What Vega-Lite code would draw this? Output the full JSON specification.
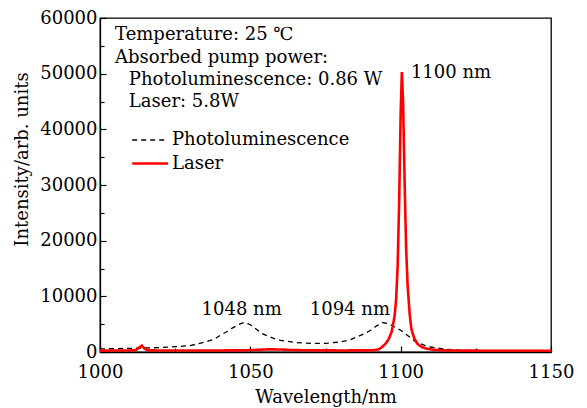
{
  "$schema": "https://vega.github.io/schema/vega-lite/v6.json",
  "width": 451,
  "height": 334,
  "autosize": "none",
  "padding": {"left": 100, "top": 18, "right": 36, "bottom": 56},
  "background": "white",
  "config": {
    "font": "DejaVu Serif",
    "view": {"stroke": "black", "strokeWidth": 1.3},
    "axis": {
      "domainColor": "black",
      "domainWidth": 1.3,
      "tickColor": "black",
      "tickWidth": 1.2,
      "labelColor": "black",
      "labelFont": "DejaVu Serif",
      "labelFontSize": 18,
      "titleFont": "DejaVu Serif",
      "titleFontSize": 18,
      "titleFontWeight": "normal",
      "titleColor": "black",
      "grid": false
    },
    "legend": {
      "orient": "none",
      "legendX": 40.7,
      "legendY": 113,
      "labelFont": "DejaVu Serif",
      "labelFontSize": 18,
      "labelColor": "black",
      "labelLimit": 400,
      "symbolType": "M-2.25,0H2.25",
      "symbolSize": 256,
      "labelOffset": 12.3,
      "rowPadding": 5
    }
  },
  "datasets": {
    "pl": [
      {"wavelength": 1000, "intensity": 550, "series": "Photoluminescence"},
      {"wavelength": 1005, "intensity": 600, "series": "Photoluminescence"},
      {"wavelength": 1010, "intensity": 650, "series": "Photoluminescence"},
      {"wavelength": 1015, "intensity": 720, "series": "Photoluminescence"},
      {"wavelength": 1020, "intensity": 800, "series": "Photoluminescence"},
      {"wavelength": 1025, "intensity": 950, "series": "Photoluminescence"},
      {"wavelength": 1030, "intensity": 1150, "series": "Photoluminescence"},
      {"wavelength": 1035, "intensity": 1800, "series": "Photoluminescence"},
      {"wavelength": 1038, "intensity": 2300, "series": "Photoluminescence"},
      {"wavelength": 1040, "intensity": 3000, "series": "Photoluminescence"},
      {"wavelength": 1042, "intensity": 3600, "series": "Photoluminescence"},
      {"wavelength": 1044, "intensity": 4300, "series": "Photoluminescence"},
      {"wavelength": 1046, "intensity": 4900, "series": "Photoluminescence"},
      {"wavelength": 1048, "intensity": 5300, "series": "Photoluminescence"},
      {"wavelength": 1050, "intensity": 4900, "series": "Photoluminescence"},
      {"wavelength": 1052, "intensity": 4100, "series": "Photoluminescence"},
      {"wavelength": 1054, "intensity": 3300, "series": "Photoluminescence"},
      {"wavelength": 1056, "intensity": 2800, "series": "Photoluminescence"},
      {"wavelength": 1058, "intensity": 2400, "series": "Photoluminescence"},
      {"wavelength": 1060, "intensity": 2100, "series": "Photoluminescence"},
      {"wavelength": 1065, "intensity": 1700, "series": "Photoluminescence"},
      {"wavelength": 1070, "intensity": 1550, "series": "Photoluminescence"},
      {"wavelength": 1075, "intensity": 1550, "series": "Photoluminescence"},
      {"wavelength": 1080, "intensity": 1800, "series": "Photoluminescence"},
      {"wavelength": 1083, "intensity": 2150, "series": "Photoluminescence"},
      {"wavelength": 1085, "intensity": 2600, "series": "Photoluminescence"},
      {"wavelength": 1088, "intensity": 3300, "series": "Photoluminescence"},
      {"wavelength": 1090, "intensity": 3900, "series": "Photoluminescence"},
      {"wavelength": 1092, "intensity": 4700, "series": "Photoluminescence"},
      {"wavelength": 1094, "intensity": 5300, "series": "Photoluminescence"},
      {"wavelength": 1096, "intensity": 5100, "series": "Photoluminescence"},
      {"wavelength": 1098, "intensity": 4500, "series": "Photoluminescence"},
      {"wavelength": 1100, "intensity": 3900, "series": "Photoluminescence"},
      {"wavelength": 1102, "intensity": 3100, "series": "Photoluminescence"},
      {"wavelength": 1104, "intensity": 2200, "series": "Photoluminescence"},
      {"wavelength": 1106, "intensity": 1600, "series": "Photoluminescence"},
      {"wavelength": 1108, "intensity": 1200, "series": "Photoluminescence"},
      {"wavelength": 1110, "intensity": 900, "series": "Photoluminescence"},
      {"wavelength": 1115, "intensity": 500, "series": "Photoluminescence"},
      {"wavelength": 1120, "intensity": 300, "series": "Photoluminescence"},
      {"wavelength": 1125, "intensity": 200, "series": "Photoluminescence"},
      {"wavelength": 1135, "intensity": 150, "series": "Photoluminescence"},
      {"wavelength": 1150, "intensity": 100, "series": "Photoluminescence"}
    ],
    "laser": [
      {"wavelength": 1000, "intensity": 250, "series": "Laser"},
      {"wavelength": 1005, "intensity": 260, "series": "Laser"},
      {"wavelength": 1010, "intensity": 280, "series": "Laser"},
      {"wavelength": 1012, "intensity": 350, "series": "Laser"},
      {"wavelength": 1013, "intensity": 800, "series": "Laser"},
      {"wavelength": 1013.9, "intensity": 1150, "series": "Laser"},
      {"wavelength": 1014.8, "intensity": 600, "series": "Laser"},
      {"wavelength": 1016, "intensity": 300, "series": "Laser"},
      {"wavelength": 1020, "intensity": 270, "series": "Laser"},
      {"wavelength": 1030, "intensity": 270, "series": "Laser"},
      {"wavelength": 1040, "intensity": 280, "series": "Laser"},
      {"wavelength": 1048, "intensity": 300, "series": "Laser"},
      {"wavelength": 1052, "intensity": 380, "series": "Laser"},
      {"wavelength": 1056, "intensity": 480, "series": "Laser"},
      {"wavelength": 1060, "intensity": 450, "series": "Laser"},
      {"wavelength": 1064, "intensity": 350, "series": "Laser"},
      {"wavelength": 1070, "intensity": 300, "series": "Laser"},
      {"wavelength": 1080, "intensity": 280, "series": "Laser"},
      {"wavelength": 1089, "intensity": 290, "series": "Laser"},
      {"wavelength": 1091, "intensity": 330, "series": "Laser"},
      {"wavelength": 1092, "intensity": 380, "series": "Laser"},
      {"wavelength": 1093, "intensity": 550, "series": "Laser"},
      {"wavelength": 1094, "intensity": 1000, "series": "Laser"},
      {"wavelength": 1095, "intensity": 1500, "series": "Laser"},
      {"wavelength": 1096, "intensity": 2300, "series": "Laser"},
      {"wavelength": 1097, "intensity": 3600, "series": "Laser"},
      {"wavelength": 1098, "intensity": 6500, "series": "Laser"},
      {"wavelength": 1098.5, "intensity": 9500, "series": "Laser"},
      {"wavelength": 1099, "intensity": 15500, "series": "Laser"},
      {"wavelength": 1099.5, "intensity": 27000, "series": "Laser"},
      {"wavelength": 1100, "intensity": 43000, "series": "Laser"},
      {"wavelength": 1100.4, "intensity": 50300, "series": "Laser"},
      {"wavelength": 1100.8, "intensity": 45000, "series": "Laser"},
      {"wavelength": 1101.3, "intensity": 31000, "series": "Laser"},
      {"wavelength": 1101.8, "intensity": 19000, "series": "Laser"},
      {"wavelength": 1102.3, "intensity": 12000, "series": "Laser"},
      {"wavelength": 1103, "intensity": 6800, "series": "Laser"},
      {"wavelength": 1103.6, "intensity": 4000, "series": "Laser"},
      {"wavelength": 1104.5, "intensity": 2500, "series": "Laser"},
      {"wavelength": 1105.5, "intensity": 1500, "series": "Laser"},
      {"wavelength": 1107, "intensity": 900, "series": "Laser"},
      {"wavelength": 1108.6, "intensity": 600, "series": "Laser"},
      {"wavelength": 1111, "intensity": 400, "series": "Laser"},
      {"wavelength": 1114, "intensity": 300, "series": "Laser"},
      {"wavelength": 1120, "intensity": 250, "series": "Laser"},
      {"wavelength": 1130, "intensity": 230, "series": "Laser"},
      {"wavelength": 1150, "intensity": 220, "series": "Laser"}
    ],
    "infoNotes": [
      {"wavelength": 1005, "intensity": 56930, "text": "Temperature: 25 ℃"},
      {"wavelength": 1005, "intensity": 52800, "text": "Absorbed pump power:"},
      {"wavelength": 1009.6, "intensity": 48850, "text": "Photoluminescence: 0.86 W"},
      {"wavelength": 1009.6, "intensity": 44900, "text": "Laser: 5.8W"},
      {"wavelength": 1103.4, "intensity": 50100, "text": "1100 nm"}
    ],
    "peakNotes": [
      {"wavelength": 1047.1, "intensity": 7540, "text": "1048 nm"},
      {"wavelength": 1083.1, "intensity": 7540, "text": "1094 nm"}
    ]
  },
  "encoding": {
    "x": {
      "field": "wavelength",
      "type": "quantitative",
      "scale": {"domain": [1000, 1150], "nice": false, "zero": false},
      "axis": {
        "title": "Wavelength/nm",
        "values": [1000, 1025, 1050, 1075, 1100, 1125, 1150],
        "labelExpr": "datum.value % 50 === 0 ? datum.label : ''",
        "format": "d",
        "tickSize": {"condition": {"test": "datum.value % 50 === 0", "value": -6}, "value": -4},
        "labelPadding": 17,
        "labelFlush": false,
        "titleY": 45,
        "titleBaseline": "middle"
      }
    },
    "y": {
      "field": "intensity",
      "type": "quantitative",
      "scale": {"domain": [0, 60000], "nice": false},
      "axis": {
        "title": "Intensity/arb. units",
        "values": [0, 5000, 10000, 15000, 20000, 25000, 30000, 35000, 40000, 45000, 50000, 55000, 60000],
        "labelExpr": "datum.value % 10000 === 0 ? datum.label : ''",
        "format": "d",
        "tickSize": {"condition": {"test": "datum.value % 10000 === 0", "value": -6}, "value": -4},
        "labelPadding": 9,
        "titleX": -78,
        "titleY": 141,
        "titleAlign": "center",
        "titleBaseline": "middle"
      }
    }
  },
  "layer": [
    {
      "data": {"name": "pl"},
      "mark": {"type": "line"},
      "encoding": {
        "color": {"field": "series", "type": "nominal", "scale": {"domain": ["Photoluminescence", "Laser"], "range": ["black", "#ff0000"]}, "title": null},
        "strokeDash": {"field": "series", "type": "nominal", "scale": {"domain": ["Photoluminescence", "Laser"], "range": [[5, 4], [1, 0]]}, "title": null},
        "strokeWidth": {"field": "series", "type": "nominal", "scale": {"domain": ["Photoluminescence", "Laser"], "range": [1.3, 2.6]}, "title": null}
      }
    },
    {
      "data": {"name": "laser"},
      "mark": {"type": "line"},
      "encoding": {
        "color": {"field": "series", "type": "nominal", "title": null},
        "strokeDash": {"field": "series", "type": "nominal", "title": null},
        "strokeWidth": {"field": "series", "type": "nominal", "title": null}
      }
    },
    {
      "data": {"name": "infoNotes"},
      "mark": {"type": "text", "align": "left", "baseline": "middle", "fontSize": 18, "color": "black"},
      "encoding": {"text": {"field": "text"}}
    },
    {
      "data": {"name": "peakNotes"},
      "mark": {"type": "text", "align": "center", "baseline": "middle", "fontSize": 18, "color": "black"},
      "encoding": {"text": {"field": "text"}}
    }
  ]
}
